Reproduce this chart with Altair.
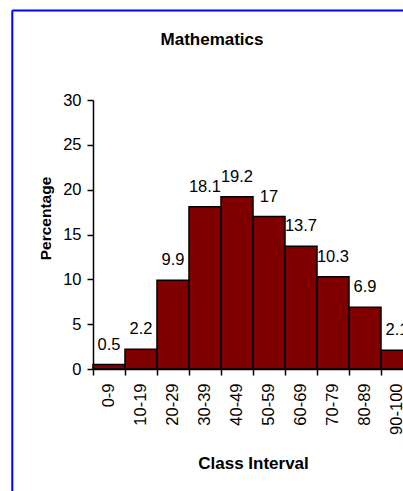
import altair as alt
import pandas as pd

# Score distribution for Mathematics, percentage of students per class interval
classes = ["0-9", "10-19", "20-29", "30-39", "40-49",
           "50-59", "60-69", "70-79", "80-89", "90-100"]
percentages = [0.5, 2.2, 9.9, 18.1, 19.2, 17, 13.7, 10.3, 6.9, 2.1]

df = pd.DataFrame({"interval": classes, "pct": percentages})

FONT = "Arial, Liberation Sans, sans-serif"
BAR_FILL = "#800000"

x_enc = alt.X(
    "interval:N",
    sort=classes,
    scale=alt.Scale(range=[0, 320], paddingInner=0, paddingOuter=0),
    axis=alt.Axis(
        title="Class Interval",
        titleFont=FONT, titleFontSize=17, titleFontWeight="bold",
        titleColor="black", titleBaseline="alphabetic", titleY=99,
        titleAnchor="middle",
        labelFont=FONT, labelFontSize=16.5, labelColor="black",
        labelAngle=270, labelAlign="right", labelBaseline="middle",
        labelPadding=8, labelOverlap=False,
        bandPosition=0, tickSize=6, tickColor="black", tickWidth=1.5,
        domainColor="black", domainWidth=1.5,
        grid=False,
    ),
)

y_enc = alt.Y(
    "pct:Q",
    scale=alt.Scale(domain=[0, 30], nice=False),
    axis=alt.Axis(
        title="Percentage",
        titleFont=FONT, titleFontSize=15.5, titleFontWeight="bold",
        titleColor="black", titleX=-43, titleY=118, titleAngle=270,
        titleAlign="center", titleBaseline="alphabetic",
        values=[0, 5, 10, 15, 20, 25, 30],
        labelFont=FONT, labelFontSize=16.5, labelColor="black",
        labelPadding=6,
        tickSize=6, tickColor="black", tickWidth=1.5,
        domainColor="black", domainWidth=1.5,
        grid=False,
    ),
)

bars = alt.Chart(df).mark_bar(
    color=BAR_FILL, stroke="black", strokeWidth=1.5
).encode(x=x_enc, y=y_enc)

labels = alt.Chart(df).mark_text(
    font=FONT, fontSize=16.5, color="black", baseline="alphabetic", dy=-15
).encode(
    x=alt.X("interval:N", sort=classes),
    y=alt.Y("pct:Q"),
    text=alt.Text("pct:Q"),
)

# Blue frame around the chart area (top and left edges)
frame_data = alt.Data(values=[{"edge": "frame"}])
frame_top = alt.Chart(frame_data).mark_rule(color="#0000FF", strokeWidth=2).encode(
    x=alt.value(-80.7), x2=alt.value(400), y=alt.value(-89.5)
)
frame_left = alt.Chart(frame_data).mark_rule(color="#0000FF", strokeWidth=2).encode(
    x=alt.value(-80.7), y=alt.value(-89.5), y2=alt.value(420)
)

chart = alt.layer(bars, labels, frame_top, frame_left).properties(
    width=310,
    height=269,
    background="white",
    title=alt.TitleParams(
        "Mathematics", font=FONT, fontSize=17, fontWeight="bold",
        color="black", anchor="middle", baseline="alphabetic",
        dx=-36, offset=-52,
    ),
    autosize=alt.AutoSizeParams(type="none"),
    padding={"left": 93, "top": 100, "right": 0, "bottom": 122},
).configure_view(strokeWidth=0)

chart.save("out.html", embed_options={"renderer": "svg", "actions": False})
